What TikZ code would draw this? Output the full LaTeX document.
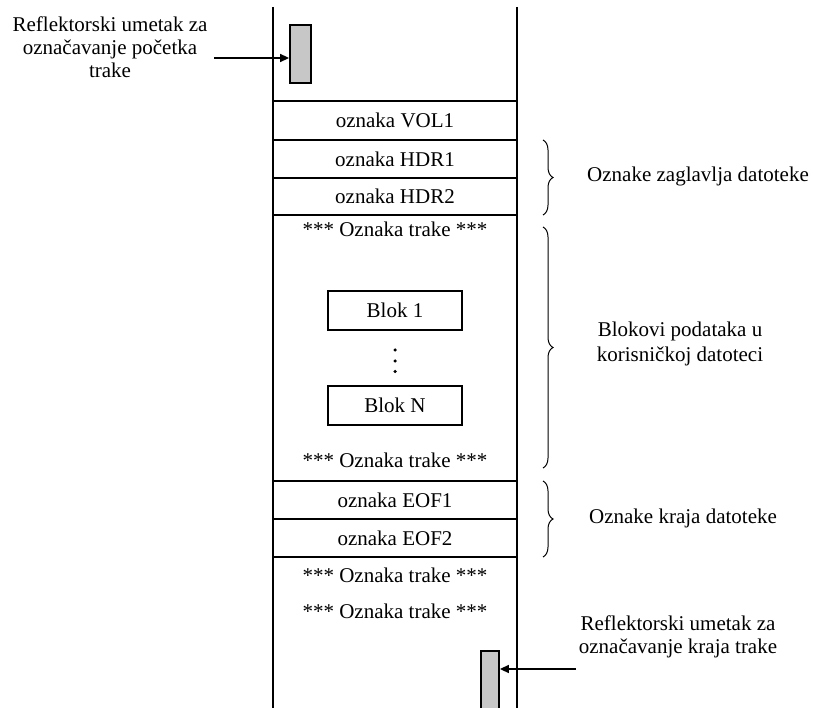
\documentclass[tikz,border=0pt]{standalone}
\usepackage{fontspec}
\setmainfont{Liberation Serif}
\usetikzlibrary{arrows.meta,decorations.pathreplacing}
\begin{document}
\begin{tikzpicture}[x=1pt,y=-1pt,
  txt/.style={font=\fontsize{21}{23}\selectfont, inner sep=0pt, anchor=base, align=center},
  row/.style={draw, line width=1.8pt, minimum width=244pt, inner sep=0pt, font=\fontsize{21}{23}\selectfont},
  blk/.style={draw, line width=1.8pt, minimum width=134pt, minimum height=39pt, inner sep=0pt, font=\fontsize{21}{23}\selectfont},
  tapeline/.style={line width=1.8pt},
  refl/.style={draw, line width=1.8pt, fill=black!22, inner sep=0pt},
  arr/.style={line width=1.5pt, -{Triangle[length=9pt,width=8pt]}},
  brc/.style={line width=1pt, decorate, decoration={brace, amplitude=10pt}},
  dot/.style={circle, fill=black, inner sep=0pt, minimum size=3.5pt}
]
\useasboundingbox (0,0) rectangle (814,708);

% tape edges
\coordinate (tl) at (273,7);
\coordinate (bl) at (273,712);
\coordinate (tr) at (517,7);
\coordinate (br) at (517,712);
\draw[tapeline] (tl) -- (bl);
\draw[tapeline] (tr) -- (br);

% rows
\node[row, minimum height=39pt] (vol) at (395,120.5) {oznaka VOL1};
\node[row, minimum height=38pt] (hdr1) at (395,159) {oznaka HDR1};
\node[row, minimum height=37pt] (hdr2) at (395,196.5) {oznaka HDR2};
\node[row, minimum height=38pt] (eof1) at (395,500) {oznaka EOF1};
\node[row, minimum height=38pt] (eof2) at (395,538) {oznaka EOF2};

\node[txt] (mk1) at (395,237) {*** Oznaka trake ***};
\node[txt] (mk2) at (395,467) {*** Oznaka trake ***};
\node[txt] (mk3) at (395,582) {*** Oznaka trake ***};
\node[txt] (mk4) at (395,618) {*** Oznaka trake ***};

% blocks
\node[blk] (b1) at (395,310.5) {Blok 1};
\node[blk] (bn) at (395,405.5) {Blok N};
\node[dot] (d1) at (395,350) {};
\node[dot] (d2) at (395,361) {};
\node[dot] (d3) at (395,371.5) {};

% reflectors
\node[refl, minimum width=21pt, minimum height=58pt] (r1) at (300.5,54) {};
\node[refl, minimum width=18pt, minimum height=64pt] (r2) at (490,683) {};

\coordinate (a1) at (214,58);
\coordinate (a2) at (576,669);
\draw[arr] (a1) -- (a1 -| r1.west);
\draw[arr] (a2) -- (a2 -| r2.east);

\node[txt] (t1) at (110,32) {Reflektorski umetak za};
\node[txt] (t2) at (110,55) {označavanje početka};
\node[txt] (t3) at (110,78) {trake};

\node[txt] (t4) at (678,630) {Reflektorski umetak za};
\node[txt] (t5) at (678,653) {označavanje kraja trake};

% braces
\coordinate (h1) at (543,140);
\coordinate (h2) at (543,215);
\draw[brc] (h1) -- (h2);
\coordinate (k1) at (543,227);
\coordinate (k2) at (543,468);
\draw[brc] (k1) -- (k2);
\coordinate (e1) at (543,481);
\coordinate (e2) at (543,557);
\draw[brc] (e1) -- (e2);

\node[txt] (l1) at (698,182) {Oznake zaglavlja datoteke};
\node[txt] (l2) at (680,337) {Blokovi podataka u};
\node[txt] (l3) at (680,362) {korisničkoj datoteci};
\node[txt] (l4) at (683,523) {Oznake kraja datoteke};
\end{tikzpicture}
\end{document}
